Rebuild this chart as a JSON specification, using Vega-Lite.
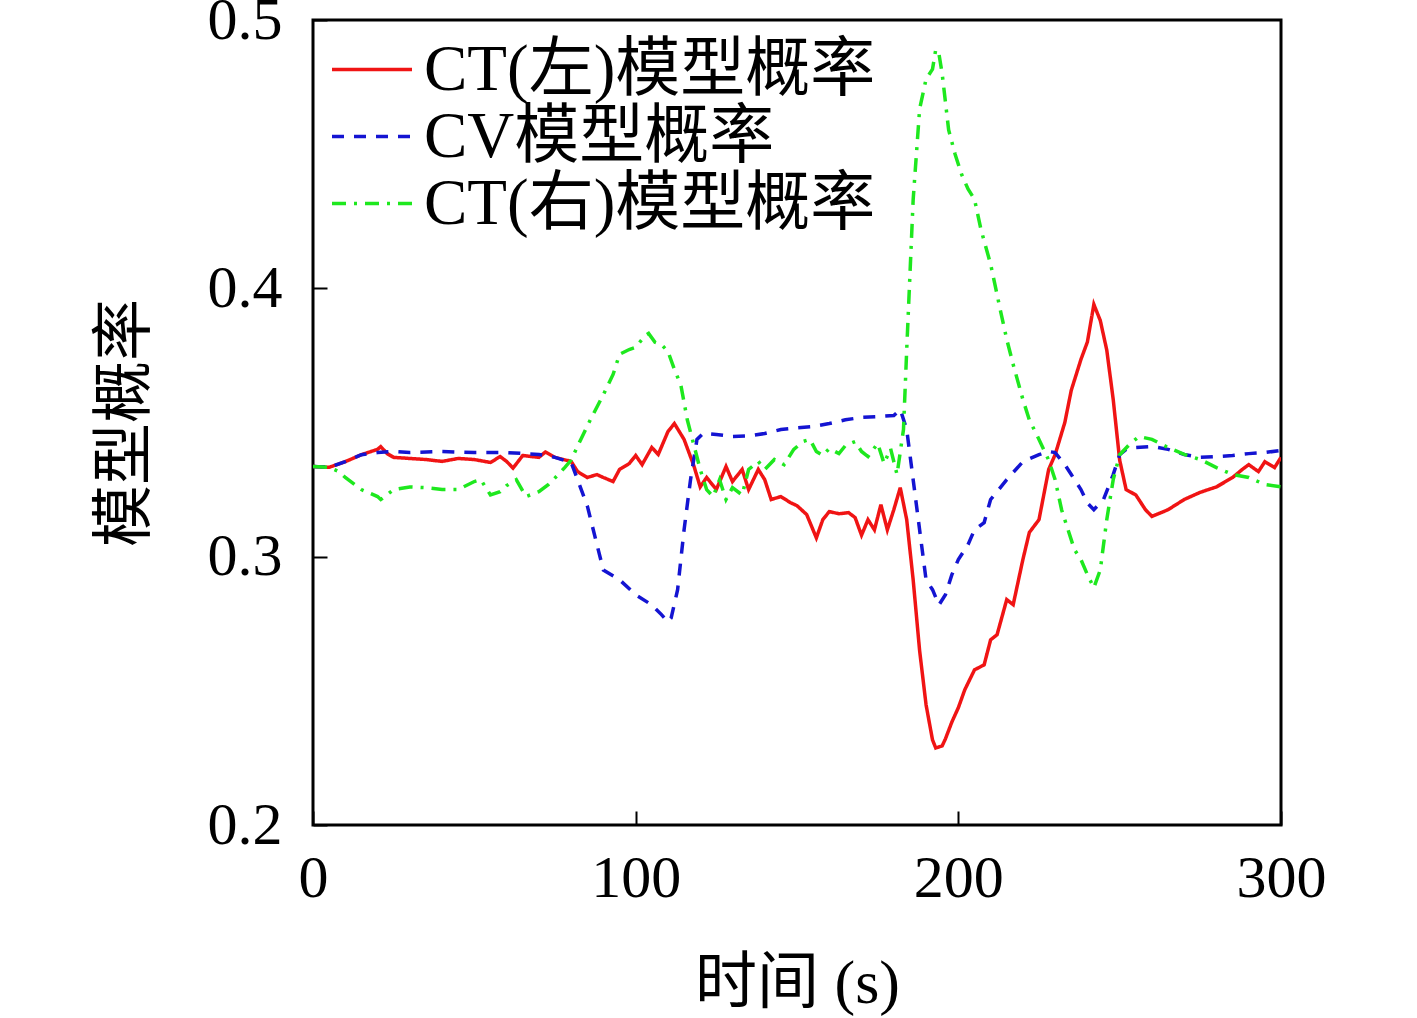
{
  "$schema": "https://vega.github.io/schema/vega-lite/v6.json",
  "width": 968,
  "height": 805,
  "autosize": "none",
  "padding": {"left": 313, "top": 20, "right": 136, "bottom": 193},
  "background": "white",
  "data": {
    "values": [
      {"t":0,"p":0.3336,"model":"CT(左)模型概率"},{"t":5,"p":0.3333,"model":"CT(左)模型概率"},{"t":10,"p":0.3354,"model":"CT(左)模型概率"},{"t":15,"p":0.338,"model":"CT(左)模型概率"},{"t":20,"p":0.340,"model":"CT(左)模型概率"},{"t":21,"p":0.341,"model":"CT(左)模型概率"},{"t":23,"p":0.3384,"model":"CT(左)模型概率"},{"t":25,"p":0.337,"model":"CT(左)模型概率"},{"t":30,"p":0.3366,"model":"CT(左)模型概率"},{"t":35,"p":0.3362,"model":"CT(左)模型概率"},{"t":40,"p":0.3355,"model":"CT(左)模型概率"},{"t":45,"p":0.3366,"model":"CT(左)模型概率"},{"t":50,"p":0.3362,"model":"CT(左)模型概率"},{"t":55,"p":0.3351,"model":"CT(左)模型概率"},{"t":58,"p":0.3373,"model":"CT(左)模型概率"},{"t":60,"p":0.3355,"model":"CT(左)模型概率"},{"t":62,"p":0.333,"model":"CT(左)模型概率"},{"t":65,"p":0.3377,"model":"CT(左)模型概率"},{"t":70,"p":0.337,"model":"CT(左)模型概率"},{"t":72,"p":0.339,"model":"CT(左)模型概率"},{"t":75,"p":0.337,"model":"CT(左)模型概率"},{"t":80,"p":0.3355,"model":"CT(左)模型概率"},{"t":82,"p":0.3317,"model":"CT(左)模型概率"},{"t":85,"p":0.3295,"model":"CT(左)模型概率"},{"t":88,"p":0.3306,"model":"CT(左)模型概率"},{"t":90,"p":0.3295,"model":"CT(左)模型概率"},{"t":93,"p":0.328,"model":"CT(左)模型概率"},{"t":95,"p":0.3325,"model":"CT(左)模型概率"},{"t":98,"p":0.3347,"model":"CT(左)模型概率"},{"t":100,"p":0.3377,"model":"CT(左)模型概率"},{"t":102,"p":0.3343,"model":"CT(左)模型概率"},{"t":105,"p":0.3407,"model":"CT(左)模型概率"},{"t":107,"p":0.3381,"model":"CT(左)模型概率"},{"t":110,"p":0.3466,"model":"CT(左)模型概率"},{"t":112,"p":0.3496,"model":"CT(左)模型概率"},{"t":115,"p":0.3437,"model":"CT(左)模型概率"},{"t":118,"p":0.334,"model":"CT(左)模型概率"},{"t":120,"p":0.326,"model":"CT(左)模型概率"},{"t":122,"p":0.3295,"model":"CT(左)模型概率"},{"t":125,"p":0.325,"model":"CT(左)模型概率"},{"t":128,"p":0.3336,"model":"CT(左)模型概率"},{"t":130,"p":0.328,"model":"CT(左)模型概率"},{"t":133,"p":0.3325,"model":"CT(左)模型概率"},{"t":135,"p":0.325,"model":"CT(左)模型概率"},{"t":138,"p":0.3325,"model":"CT(左)模型概率"},{"t":140,"p":0.3287,"model":"CT(左)模型概率"},{"t":142,"p":0.3213,"model":"CT(左)模型概率"},{"t":145,"p":0.3224,"model":"CT(左)模型概率"},{"t":148,"p":0.3201,"model":"CT(左)模型概率"},{"t":150,"p":0.319,"model":"CT(左)模型概率"},{"t":153,"p":0.3157,"model":"CT(左)模型概率"},{"t":156,"p":0.307,"model":"CT(左)模型概率"},{"t":158,"p":0.3138,"model":"CT(左)模型概率"},{"t":160,"p":0.3168,"model":"CT(左)模型概率"},{"t":163,"p":0.316,"model":"CT(左)模型概率"},{"t":166,"p":0.3164,"model":"CT(左)模型概率"},{"t":168,"p":0.3146,"model":"CT(左)模型概率"},{"t":170,"p":0.308,"model":"CT(左)模型概率"},{"t":172,"p":0.3138,"model":"CT(左)模型概率"},{"t":174,"p":0.310,"model":"CT(左)模型概率"},{"t":176,"p":0.3194,"model":"CT(左)模型概率"},{"t":178,"p":0.310,"model":"CT(左)模型概率"},{"t":180,"p":0.3175,"model":"CT(左)模型概率"},{"t":182,"p":0.3257,"model":"CT(左)模型概率"},{"t":184,"p":0.3138,"model":"CT(左)模型概率"},{"t":186,"p":0.2914,"model":"CT(左)模型概率"},{"t":188,"p":0.265,"model":"CT(左)模型概率"},{"t":190,"p":0.2448,"model":"CT(左)模型概率"},{"t":192,"p":0.2317,"model":"CT(左)模型概率"},{"t":193,"p":0.2287,"model":"CT(左)模型概率"},{"t":195,"p":0.2295,"model":"CT(左)模型概率"},{"t":196,"p":0.2321,"model":"CT(左)模型概率"},{"t":198,"p":0.2384,"model":"CT(左)模型概率"},{"t":200,"p":0.2437,"model":"CT(左)模型概率"},{"t":202,"p":0.2504,"model":"CT(左)模型概率"},{"t":205,"p":0.2578,"model":"CT(左)模型概率"},{"t":208,"p":0.2597,"model":"CT(左)模型概率"},{"t":210,"p":0.269,"model":"CT(左)模型概率"},{"t":212,"p":0.2709,"model":"CT(左)模型概率"},{"t":215,"p":0.284,"model":"CT(左)模型概率"},{"t":217,"p":0.2821,"model":"CT(左)模型概率"},{"t":220,"p":0.2989,"model":"CT(左)模型概率"},{"t":222,"p":0.309,"model":"CT(左)模型概率"},{"t":225,"p":0.3138,"model":"CT(左)模型概率"},{"t":228,"p":0.3325,"model":"CT(左)模型概率"},{"t":230,"p":0.338,"model":"CT(左)模型概率"},{"t":233,"p":0.350,"model":"CT(左)模型概率"},{"t":235,"p":0.362,"model":"CT(左)模型概率"},{"t":238,"p":0.3735,"model":"CT(左)模型概率"},{"t":240,"p":0.380,"model":"CT(左)模型概率"},{"t":242,"p":0.394,"model":"CT(左)模型概率"},{"t":244,"p":0.388,"model":"CT(左)模型概率"},{"t":246,"p":0.377,"model":"CT(左)模型概率"},{"t":248,"p":0.3586,"model":"CT(左)模型概率"},{"t":250,"p":0.336,"model":"CT(左)模型概率"},{"t":252,"p":0.325,"model":"CT(左)模型概率"},{"t":255,"p":0.323,"model":"CT(左)模型概率"},{"t":258,"p":0.3175,"model":"CT(左)模型概率"},{"t":260,"p":0.315,"model":"CT(左)模型概率"},{"t":265,"p":0.3175,"model":"CT(左)模型概率"},{"t":270,"p":0.3213,"model":"CT(左)模型概率"},{"t":275,"p":0.324,"model":"CT(左)模型概率"},{"t":280,"p":0.326,"model":"CT(左)模型概率"},{"t":285,"p":0.3295,"model":"CT(左)模型概率"},{"t":288,"p":0.3325,"model":"CT(左)模型概率"},{"t":290,"p":0.3343,"model":"CT(左)模型概率"},{"t":293,"p":0.3317,"model":"CT(左)模型概率"},{"t":295,"p":0.3354,"model":"CT(左)模型概率"},{"t":298,"p":0.3332,"model":"CT(左)模型概率"},{"t":300,"p":0.337,"model":"CT(左)模型概率"},
      {"t":0,"p":0.3336,"model":"CV模型概率"},{"t":5,"p":0.3333,"model":"CV模型概率"},{"t":10,"p":0.3354,"model":"CV模型概率"},{"t":15,"p":0.338,"model":"CV模型概率"},{"t":20,"p":0.3388,"model":"CV模型概率"},{"t":25,"p":0.3392,"model":"CV模型概率"},{"t":30,"p":0.3388,"model":"CV模型概率"},{"t":40,"p":0.3392,"model":"CV模型概率"},{"t":50,"p":0.3388,"model":"CV模型概率"},{"t":60,"p":0.3388,"model":"CV模型概率"},{"t":70,"p":0.3381,"model":"CV模型概率"},{"t":75,"p":0.337,"model":"CV模型概率"},{"t":80,"p":0.3351,"model":"CV模型概率"},{"t":82,"p":0.3287,"model":"CV模型概率"},{"t":85,"p":0.319,"model":"CV模型概率"},{"t":88,"p":0.3045,"model":"CV模型概率"},{"t":90,"p":0.295,"model":"CV模型概率"},{"t":95,"p":0.2914,"model":"CV模型概率"},{"t":100,"p":0.2858,"model":"CV模型概率"},{"t":105,"p":0.282,"model":"CV模型概率"},{"t":108,"p":0.2784,"model":"CV模型概率"},{"t":110,"p":0.2757,"model":"CV模型概率"},{"t":111,"p":0.2772,"model":"CV模型概率"},{"t":113,"p":0.2877,"model":"CV模型概率"},{"t":115,"p":0.310,"model":"CV模型概率"},{"t":117,"p":0.3287,"model":"CV模型概率"},{"t":119,"p":0.3437,"model":"CV模型概率"},{"t":121,"p":0.346,"model":"CV模型概率"},{"t":125,"p":0.3455,"model":"CV模型概率"},{"t":130,"p":0.3448,"model":"CV模型概率"},{"t":135,"p":0.345,"model":"CV模型概率"},{"t":140,"p":0.3459,"model":"CV模型概率"},{"t":145,"p":0.3474,"model":"CV模型概率"},{"t":150,"p":0.348,"model":"CV模型概率"},{"t":155,"p":0.3485,"model":"CV模型概率"},{"t":160,"p":0.3496,"model":"CV模型概率"},{"t":165,"p":0.351,"model":"CV模型概率"},{"t":170,"p":0.3519,"model":"CV模型概率"},{"t":175,"p":0.3522,"model":"CV模型概率"},{"t":180,"p":0.3526,"model":"CV模型概率"},{"t":182,"p":0.3549,"model":"CV模型概率"},{"t":184,"p":0.3474,"model":"CV模型概率"},{"t":186,"p":0.3287,"model":"CV模型概率"},{"t":188,"p":0.310,"model":"CV模型概率"},{"t":190,"p":0.2914,"model":"CV模型概率"},{"t":192,"p":0.2877,"model":"CV模型概率"},{"t":194,"p":0.282,"model":"CV模型概率"},{"t":196,"p":0.2858,"model":"CV模型概率"},{"t":198,"p":0.2933,"model":"CV模型概率"},{"t":200,"p":0.2989,"model":"CV模型概率"},{"t":203,"p":0.3045,"model":"CV模型概率"},{"t":205,"p":0.310,"model":"CV模型概率"},{"t":208,"p":0.3127,"model":"CV模型概率"},{"t":210,"p":0.3213,"model":"CV模型概率"},{"t":215,"p":0.3287,"model":"CV模型概率"},{"t":220,"p":0.3354,"model":"CV模型概率"},{"t":225,"p":0.338,"model":"CV模型概率"},{"t":228,"p":0.3392,"model":"CV模型概率"},{"t":230,"p":0.3388,"model":"CV模型概率"},{"t":233,"p":0.3343,"model":"CV模型概率"},{"t":235,"p":0.3306,"model":"CV模型概率"},{"t":238,"p":0.325,"model":"CV模型概率"},{"t":240,"p":0.320,"model":"CV模型概率"},{"t":242,"p":0.3175,"model":"CV模型概率"},{"t":245,"p":0.3213,"model":"CV模型概率"},{"t":248,"p":0.3306,"model":"CV模型概率"},{"t":250,"p":0.338,"model":"CV模型概率"},{"t":252,"p":0.340,"model":"CV模型概率"},{"t":255,"p":0.3407,"model":"CV模型概率"},{"t":260,"p":0.3411,"model":"CV模型概率"},{"t":265,"p":0.340,"model":"CV模型概率"},{"t":270,"p":0.3381,"model":"CV模型概率"},{"t":275,"p":0.337,"model":"CV模型概率"},{"t":280,"p":0.3373,"model":"CV模型概率"},{"t":285,"p":0.3377,"model":"CV模型概率"},{"t":290,"p":0.3384,"model":"CV模型概率"},{"t":295,"p":0.3388,"model":"CV模型概率"},{"t":300,"p":0.3396,"model":"CV模型概率"},
      {"t":0,"p":0.3336,"model":"CT(右)模型概率"},{"t":5,"p":0.3333,"model":"CT(右)模型概率"},{"t":8,"p":0.3317,"model":"CT(右)模型概率"},{"t":10,"p":0.3295,"model":"CT(右)模型概率"},{"t":15,"p":0.325,"model":"CT(右)模型概率"},{"t":20,"p":0.3224,"model":"CT(右)模型概率"},{"t":21,"p":0.3213,"model":"CT(右)模型概率"},{"t":25,"p":0.325,"model":"CT(右)模型概率"},{"t":30,"p":0.326,"model":"CT(右)模型概率"},{"t":35,"p":0.3257,"model":"CT(右)模型概率"},{"t":40,"p":0.325,"model":"CT(右)模型概率"},{"t":45,"p":0.325,"model":"CT(右)模型概率"},{"t":50,"p":0.328,"model":"CT(右)模型概率"},{"t":52,"p":0.3287,"model":"CT(右)模型概率"},{"t":55,"p":0.323,"model":"CT(右)模型概率"},{"t":58,"p":0.3242,"model":"CT(右)模型概率"},{"t":60,"p":0.3265,"model":"CT(右)模型概率"},{"t":63,"p":0.3287,"model":"CT(右)模型概率"},{"t":66,"p":0.3224,"model":"CT(右)模型概率"},{"t":70,"p":0.3242,"model":"CT(右)模型概率"},{"t":73,"p":0.3269,"model":"CT(右)模型概率"},{"t":76,"p":0.3306,"model":"CT(右)模型概率"},{"t":78,"p":0.3332,"model":"CT(右)模型概率"},{"t":80,"p":0.336,"model":"CT(右)模型概率"},{"t":83,"p":0.3437,"model":"CT(右)模型概率"},{"t":86,"p":0.3511,"model":"CT(右)模型概率"},{"t":90,"p":0.3604,"model":"CT(右)模型概率"},{"t":93,"p":0.3679,"model":"CT(右)模型概率"},{"t":95,"p":0.3754,"model":"CT(右)模型概率"},{"t":98,"p":0.3772,"model":"CT(右)模型概率"},{"t":100,"p":0.378,"model":"CT(右)模型概率"},{"t":103,"p":0.3825,"model":"CT(右)模型概率"},{"t":104,"p":0.3832,"model":"CT(右)模型概率"},{"t":106,"p":0.3799,"model":"CT(右)模型概率"},{"t":108,"p":0.379,"model":"CT(右)模型概率"},{"t":110,"p":0.3765,"model":"CT(右)模型概率"},{"t":112,"p":0.3698,"model":"CT(右)模型概率"},{"t":114,"p":0.364,"model":"CT(右)模型概率"},{"t":116,"p":0.351,"model":"CT(右)模型概率"},{"t":118,"p":0.3418,"model":"CT(右)模型概率"},{"t":120,"p":0.3325,"model":"CT(右)模型概率"},{"t":122,"p":0.325,"model":"CT(右)模型概率"},{"t":124,"p":0.3224,"model":"CT(右)模型概率"},{"t":126,"p":0.3287,"model":"CT(右)模型概率"},{"t":128,"p":0.3213,"model":"CT(右)模型概率"},{"t":130,"p":0.3257,"model":"CT(右)模型概率"},{"t":133,"p":0.323,"model":"CT(右)模型概率"},{"t":135,"p":0.3325,"model":"CT(右)模型概率"},{"t":138,"p":0.3355,"model":"CT(右)模型概率"},{"t":140,"p":0.3325,"model":"CT(右)模型概率"},{"t":143,"p":0.3362,"model":"CT(右)模型概率"},{"t":146,"p":0.3343,"model":"CT(右)模型概率"},{"t":149,"p":0.34,"model":"CT(右)模型概率"},{"t":152,"p":0.343,"model":"CT(右)模型概率"},{"t":154,"p":0.3437,"model":"CT(右)模型概率"},{"t":156,"p":0.3392,"model":"CT(右)模型概率"},{"t":158,"p":0.3377,"model":"CT(右)模型概率"},{"t":160,"p":0.3403,"model":"CT(右)模型概率"},{"t":163,"p":0.3384,"model":"CT(右)模型概率"},{"t":165,"p":0.3414,"model":"CT(右)模型概率"},{"t":168,"p":0.3429,"model":"CT(右)模型概率"},{"t":170,"p":0.3392,"model":"CT(右)模型概率"},{"t":172,"p":0.3373,"model":"CT(右)模型概率"},{"t":175,"p":0.3422,"model":"CT(右)模型概率"},{"t":177,"p":0.3347,"model":"CT(右)模型概率"},{"t":179,"p":0.3403,"model":"CT(右)模型概率"},{"t":181,"p":0.3306,"model":"CT(右)模型概率"},{"t":183,"p":0.3474,"model":"CT(右)模型概率"},{"t":184,"p":0.377,"model":"CT(右)模型概率"},{"t":186,"p":0.433,"model":"CT(右)模型概率"},{"t":188,"p":0.4668,"model":"CT(右)模型概率"},{"t":190,"p":0.478,"model":"CT(右)模型概率"},{"t":192,"p":0.4817,"model":"CT(右)模型概率"},{"t":193,"p":0.489,"model":"CT(右)模型概率"},{"t":194,"p":0.4873,"model":"CT(右)模型概率"},{"t":195,"p":0.4799,"model":"CT(右)模型概率"},{"t":197,"p":0.459,"model":"CT(右)模型概率"},{"t":199,"p":0.45,"model":"CT(右)模型概率"},{"t":201,"p":0.4425,"model":"CT(右)模型概率"},{"t":203,"p":0.437,"model":"CT(右)模型概率"},{"t":205,"p":0.4332,"model":"CT(右)模型概率"},{"t":207,"p":0.422,"model":"CT(右)模型概率"},{"t":210,"p":0.409,"model":"CT(右)模型概率"},{"t":213,"p":0.392,"model":"CT(右)模型概率"},{"t":215,"p":0.381,"model":"CT(右)模型概率"},{"t":217,"p":0.3716,"model":"CT(右)模型概率"},{"t":220,"p":0.3586,"model":"CT(右)模型概率"},{"t":222,"p":0.351,"model":"CT(右)模型概率"},{"t":225,"p":0.3437,"model":"CT(右)模型概率"},{"t":228,"p":0.336,"model":"CT(右)模型概率"},{"t":230,"p":0.3287,"model":"CT(右)模型概率"},{"t":232,"p":0.3175,"model":"CT(右)模型概率"},{"t":234,"p":0.31,"model":"CT(右)模型概率"},{"t":236,"p":0.3026,"model":"CT(右)模型概率"},{"t":238,"p":0.2989,"model":"CT(右)模型概率"},{"t":240,"p":0.2933,"model":"CT(右)模型概率"},{"t":242,"p":0.2884,"model":"CT(右)模型概率"},{"t":244,"p":0.2951,"model":"CT(右)模型概率"},{"t":246,"p":0.3138,"model":"CT(右)模型概率"},{"t":248,"p":0.3287,"model":"CT(右)模型概率"},{"t":250,"p":0.338,"model":"CT(右)模型概率"},{"t":253,"p":0.3418,"model":"CT(右)模型概率"},{"t":256,"p":0.3448,"model":"CT(右)模型概率"},{"t":260,"p":0.3437,"model":"CT(右)模型概率"},{"t":265,"p":0.3407,"model":"CT(右)模型概率"},{"t":270,"p":0.3381,"model":"CT(右)模型概率"},{"t":275,"p":0.3362,"model":"CT(右)模型概率"},{"t":280,"p":0.3332,"model":"CT(右)模型概率"},{"t":285,"p":0.3306,"model":"CT(右)模型概率"},{"t":290,"p":0.3295,"model":"CT(右)模型概率"},{"t":295,"p":0.3269,"model":"CT(右)模型概率"},{"t":300,"p":0.326,"model":"CT(右)模型概率"}
    ]
  },
  "mark": {"type": "line", "strokeWidth": 3.5, "clip": true},
  "encoding": {
    "x": {
      "field": "t",
      "type": "quantitative",
      "scale": {"domain": [0, 300], "nice": false},
      "axis": {"title": "时间 (s)", "values": [0, 100, 200, 300]}
    },
    "y": {
      "field": "p",
      "type": "quantitative",
      "scale": {"domain": [0.2, 0.5], "nice": false, "zero": false},
      "axis": {"title": "模型概率", "values": [0.2, 0.3, 0.4, 0.5], "format": ".1f"}
    },
    "color": {
      "field": "model",
      "type": "nominal",
      "scale": {
        "domain": ["CT(左)模型概率", "CV模型概率", "CT(右)模型概率"],
        "range": ["#f01414", "#1414d2", "#1ee81e"]
      },
      "legend": {
        "title": null,
        "orient": "none",
        "legendX": 17,
        "legendY": 16,
        "symbolType": "stroke",
        "symbolSize": 6400,
        "symbolStrokeWidth": 3.5,
        "labelFontSize": 65,
        "labelLimit": 0,
        "labelOffset": 10,
        "clipHeight": 67,
        "rowPadding": 0,
        "fillColor": null,
        "strokeColor": null
      }
    },
    "strokeDash": {
      "field": "model",
      "type": "nominal",
      "scale": {
        "domain": ["CT(左)模型概率", "CV模型概率", "CT(右)模型概率"],
        "range": [[1, 0], [12, 10], [14, 8, 3, 8]]
      },
      "legend": null
    }
  },
  "config": {
    "font": "Liberation Serif, Noto Sans CJK SC",
    "view": {"stroke": "black", "strokeWidth": 3},
    "axis": {
      "grid": false,
      "domain": false,
      "ticks": true,
      "tickColor": "black",
      "tickWidth": 2,
      "tickSize": -14,
      "labelFont": "Liberation Serif",
      "labelFontSize": 60,
      "labelColor": "black",
      "labelFlush": false,
      "labelOverlap": false,
      "titleFont": "Liberation Serif, Noto Sans CJK SC",
      "titleFontSize": 62,
      "titleFontWeight": "normal",
      "titleColor": "black"
    },
    "axisX": {"labelPadding": 38, "titlePadding": 45},
    "axisY": {"labelPadding": 45, "titlePadding": 50},
    "legend": {"labelFont": "Liberation Serif, Noto Sans CJK SC", "labelColor": "black"}
  }
}
